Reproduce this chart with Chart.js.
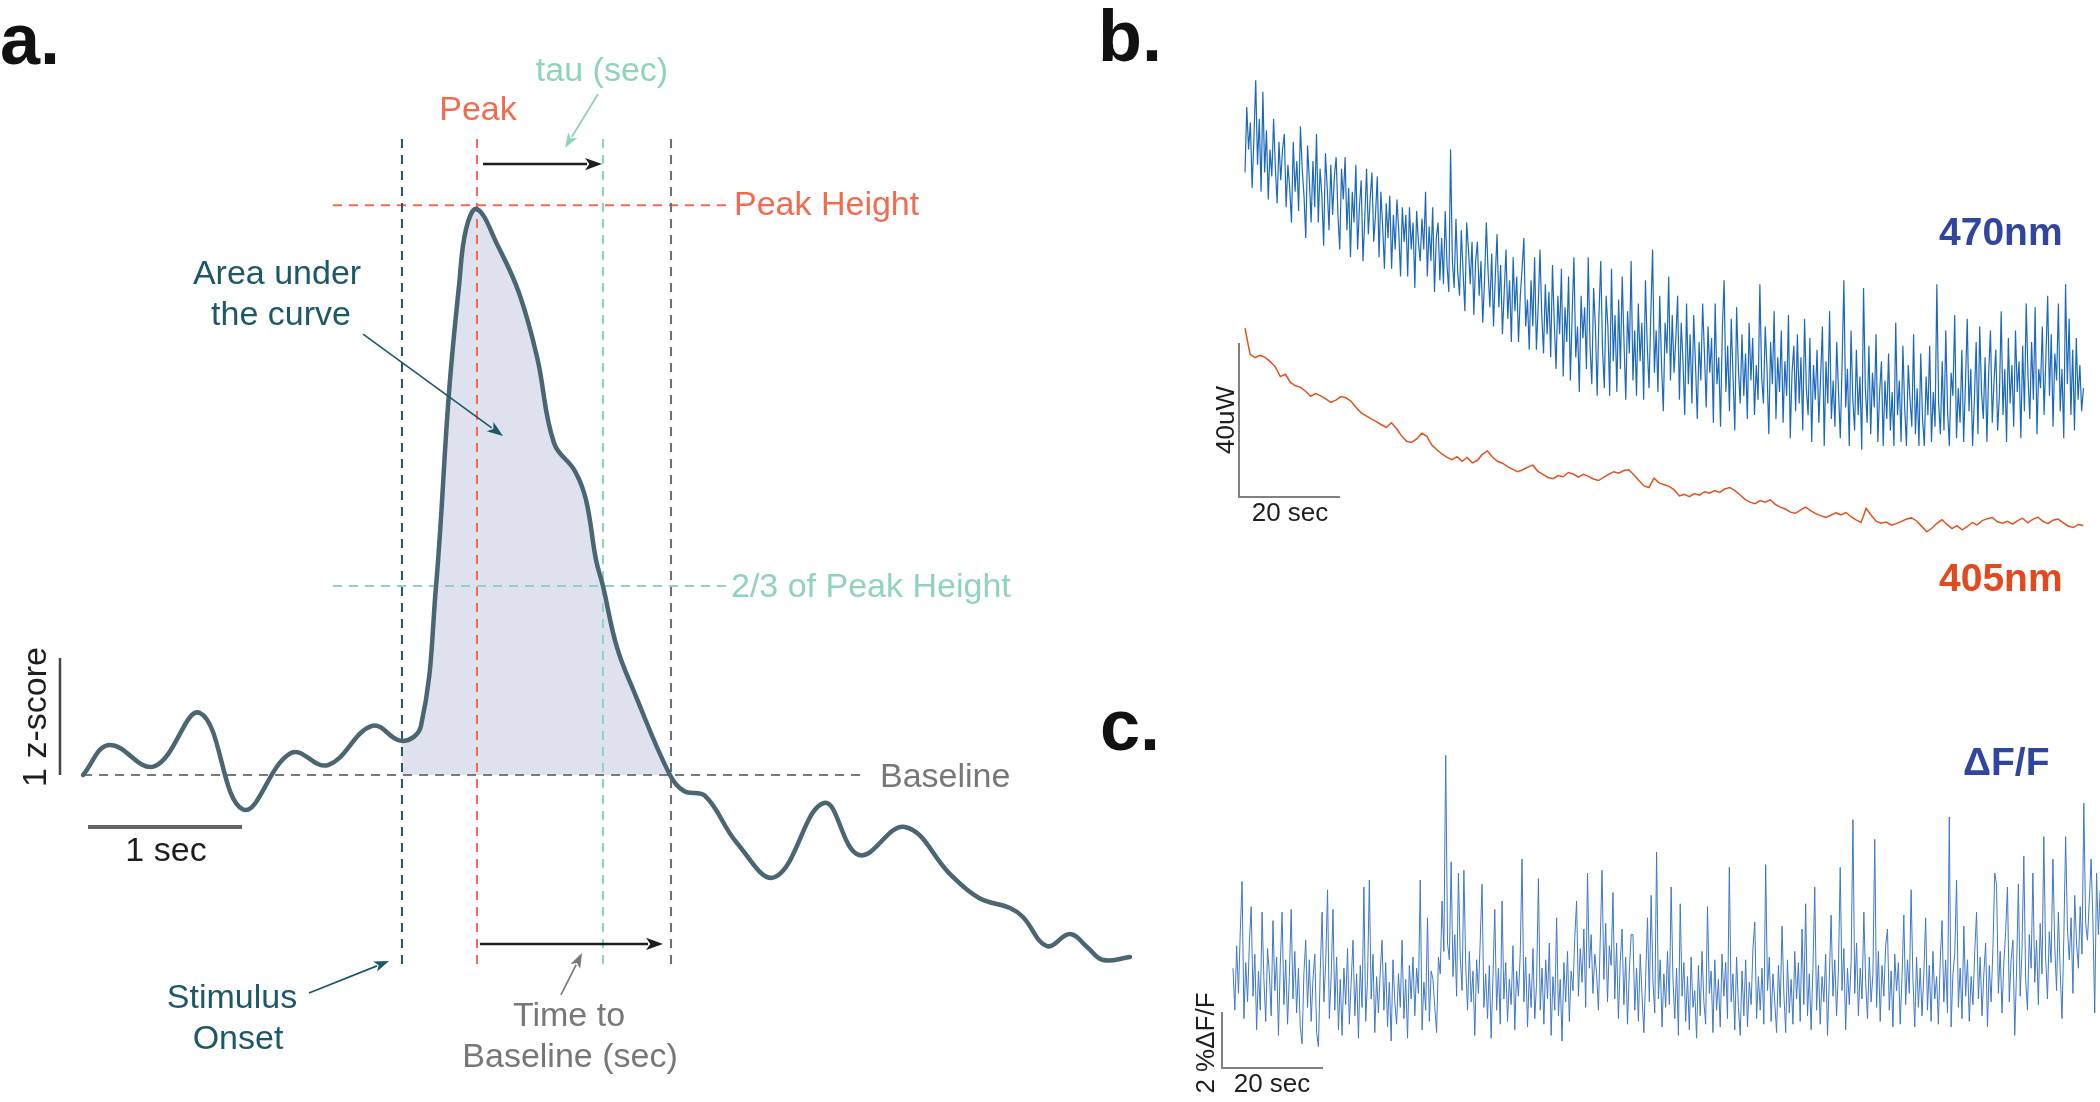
<!DOCTYPE html>
<html lang="en">
<head>
<meta charset="UTF-8">
<title>Photometry response metrics</title>
<script src="https://cdn.jsdelivr.net/npm/chart.js@4"></script>
<style>
  html, body { margin: 0; padding: 0; background: #fff; overflow: hidden; }
  #fig { display: block; background: #fff; }
</style>
</head>
<body>
<canvas id="fig" width="2100" height="1102"></canvas>
<script>
/*** DATA ***/
// a. schematic response: time (s, 0 = stimulus onset) and z-score
const curveTime = [-2.071, -1.903, -1.610, -1.312, -1.032, -0.721, -0.481, -0.195, 0.000, 0.123,
  0.221, 0.305, 0.370, 0.416, 0.487, 0.623, 0.760, 0.877, 0.987, 1.123,
  1.195, 1.260, 1.305, 1.396, 1.513, 1.740, 1.831, 1.968, 2.175, 2.422,
  2.740, 2.968, 3.266, 3.565, 3.747, 3.948, 4.032, 4.188, 4.338, 4.448, 4.552, 4.727];
const curveZ = [0.000, 0.256, 0.073, 0.530, -0.295, 0.188, 0.085, 0.419, 0.291, 0.419,
  1.615, 3.265, 4.179, 4.667, 4.838, 4.521, 4.120, 3.573, 2.838, 2.598,
  2.350, 1.838, 1.615, 1.090, 0.692, 0.000, -0.137, -0.179, -0.581, -0.872,
  -0.239, -0.684, -0.444, -0.855, -1.051, -1.137, -1.214, -1.462, -1.359, -1.470, -1.581, -1.556];
const onsetT = 0, peakT = 0.487, tauT = 1.305, returnT = 1.747;
const peakZ = 4.87, tauZ = 1.615;
const markerTop = 5.436, markerBottom = -1.632;   // z range of vertical dashed markers

// b. raw signals (uW), one sample every dt s
const B_DT_470 = 0.354;
const signal470 = [
  137, 154, 143, 150, 133, 146, 161, 139, 151, 132,
  158, 137, 148, 130, 143, 136, 151, 138, 129, 145,
  135, 143, 147, 128, 139, 133, 124, 145, 132, 140,
  127, 149, 138, 131, 120, 144, 135, 124, 140, 128,
  147, 124, 138, 131, 118, 142, 133, 122, 139, 126,
  136, 141, 126, 117, 138, 130, 141, 122, 133, 115,
  132, 124, 139, 117, 128, 135, 114, 125, 138, 121,
  130, 137, 119, 126, 136, 115, 132, 123, 112, 129,
  120, 131, 112, 126, 117, 130, 122, 110, 128, 119,
  126, 110, 128, 117, 124, 107, 127, 119, 114, 125,
  117, 132, 110, 123, 114, 128, 106, 120, 124, 109,
  120, 108, 127, 113, 106, 143, 114, 107, 125, 111,
  105, 122, 111, 101, 124, 117, 108, 119, 100, 114,
  119, 105, 114, 98, 109, 124, 111, 102, 116, 97,
  110, 121, 102, 113, 95, 106, 117, 99, 109, 93,
  115, 101, 110, 93, 105, 112, 120, 97, 104, 91,
  109, 97, 115, 91, 102, 117, 100, 90, 108, 95,
  106, 89, 113, 98, 86, 105, 95, 112, 84, 102,
  93, 110, 83, 100, 115, 89, 97, 80, 105, 94,
  102, 86, 115, 92, 82, 107, 97, 79, 100, 114,
  91, 81, 105, 97, 79, 112, 88, 100, 80, 104,
  86, 110, 93, 78, 101, 90, 114, 83, 96, 79,
  103, 88, 98, 78, 109, 92, 81, 100, 117, 85,
  96, 80, 105, 87, 75, 98, 90, 110, 83, 100,
  85, 94, 105, 78, 98, 88, 74, 103, 82, 95,
  77, 100, 87, 73, 93, 83, 103, 90, 76, 97,
  85, 94, 72, 103, 82, 89, 71, 96, 109, 80,
  92, 75, 99, 84, 70, 102, 86, 77, 95, 79,
  90, 73, 98, 83, 94, 74, 87, 78, 108, 84,
  77, 97, 86, 69, 93, 82, 101, 73, 89, 80,
  96, 72, 88, 79, 100, 68, 85, 92, 75, 95,
  77, 89, 70, 99, 81, 74, 94, 67, 87, 78,
  91, 72, 84, 97, 66, 88, 77, 101, 73, 83,
  71, 93, 80, 68, 87, 109, 76, 86, 66, 96,
  78, 70, 91, 74, 84, 65, 107, 81, 72, 92,
  69, 85, 76, 95, 67, 80, 88, 66, 83, 73,
  90, 70, 80, 66, 98, 74, 83, 67, 92, 76,
  66, 87, 78, 71, 95, 69, 81, 66, 90, 73,
  66, 84, 74, 92, 67, 80, 71, 108, 77, 69,
  88, 70, 96, 75, 66, 85, 79, 100, 68, 81,
  72, 91, 67, 82, 99, 75, 86, 66, 78, 93,
  69, 97, 80, 73, 89, 67, 85, 96, 72, 83,
  91, 70, 79, 101, 74, 86, 67, 94, 77, 87,
  71, 96, 80, 88, 68, 92, 75, 103, 84, 73,
  93, 78, 102, 69, 86, 81, 97, 74, 89, 105,
  79, 95, 71, 90, 83, 103, 75, 86, 68, 108,
  82, 99, 74, 91, 70, 94, 78, 87, 75, 81
];
const B_DT_405 = 1.0;
const signal405 = [
  96.6, 89.8, 88.9, 89.5, 89.0, 87.9, 86.5, 84.0, 84.6, 82.5,
  81.6, 81.2, 80.2, 78.9, 79.6, 79.0, 78.2, 77.3, 77.9, 78.8,
  78.5, 77.6, 76.0, 74.6, 73.8, 73.0, 72.3, 71.5, 70.8, 72.0,
  70.5, 68.6, 67.2, 66.9, 67.8, 69.3, 68.5, 66.2, 65.0, 63.9,
  63.0, 62.4, 63.2, 62.0, 63.0, 61.6, 62.2, 63.8, 64.7, 63.1,
  62.0, 61.5, 60.6, 59.9, 59.3, 59.8, 60.5, 61.0, 59.4, 58.6,
  57.8, 57.5, 58.3, 58.0, 59.1, 58.7, 57.9, 58.6, 58.1, 57.4,
  57.0, 57.8, 58.6, 59.3, 58.9, 59.6, 59.8, 58.5, 57.0, 55.6,
  55.2, 57.6, 56.4, 55.9, 55.5, 54.6, 53.0, 53.4, 52.8, 53.6,
  53.2, 54.1, 53.7, 54.4, 53.9, 54.8, 55.2, 54.4, 53.3, 52.1,
  51.4, 51.0, 51.8, 51.4, 52.0, 50.8, 50.1, 49.6, 48.8, 48.5,
  49.3, 50.1, 49.2, 48.4, 47.9, 47.4, 48.0, 48.6, 48.1, 48.7,
  47.6, 46.8, 46.1, 49.8, 48.0, 46.4, 45.9, 46.2, 45.4, 45.8,
  46.4, 47.0, 47.3, 46.5, 45.1, 43.7, 44.6, 45.9, 46.8, 45.6,
  44.5, 45.3, 44.2, 45.0, 46.1, 45.5, 46.6, 47.1, 47.4, 46.3,
  45.9, 46.4, 45.7, 46.6, 47.2, 46.0, 46.9, 47.5, 46.4, 45.8,
  46.7, 47.0, 46.1, 45.2, 44.8, 45.6, 45.3
];

// c. dF/F (%), one sample every C_DT s
const C_DT = 0.36;
const dff = [
  0.6, -0.9, 1.4, -0.3, 1.9, 3.7, -1.2, 0.8, -0.6, 1.5,
  2.8, -0.4, 1.1, -1.6, 0.5, -0.9, 2.6, 0.2, -1.3, 1.3,
  0.4, -1.1, 2.3, -0.2, 1.0, -1.8, 0.7, 2.6, -0.7, 0.9,
  -1.4, 0.3, 2.7, -0.5, 1.2, -1.0, 0.6, -1.5, -2.1, 0.4,
  1.6, -0.8, 0.9, -1.3, 0.2, 1.1, -1.7, -2.2, 0.5, 2.6,
  -0.6, 0.8, 3.4, -1.2, 0.3, 2.7, -0.9, 1.0, -1.6, 0.2,
  -1.8, 0.6, -0.7, 1.3, -1.4, 0.1, 1.6, -1.1, 0.4, -1.9,
  0.7, -0.8, 3.5, -1.3, 0.2, 3.75, -0.5, 1.1, -1.7, 0.3,
  -1.0, 0.5, 1.6, -0.9, 0.8, -1.5, 0.1, -2.0, 0.9, -0.6,
  -1.4, 0.4, -0.8, 1.6, -1.2, 0.2, -1.9, 0.7, -0.5, 1.0,
  -1.1, 0.6, -0.3, 3.75, -1.6, 0.1, -0.9, 2.4, -1.3, 0.5,
  0.2, -0.8, -1.7, 1.0, 0.4, 3.0, 1.2, 8.2, 1.5, 0.9,
  4.4, 0.3, 1.8, -0.4, 4.0, 1.0, -0.2, 4.1, 0.7, -0.9,
  1.2, -0.6, 0.5, -1.8, 0.9, -0.3, 1.6, 3.6, -0.8, 0.4,
  -1.2, 0.7, -1.9, 0.3, 2.7, -0.9, 0.6, -1.4, 3.0, -0.5,
  0.8, -1.3, 0.2, -0.7, 1.4, -1.6, 0.5, -0.4, 1.1, 4.5,
  -0.6, 1.0, -1.5, 0.4, -0.8, 1.3, -1.2, 0.1, 3.8, -0.9,
  0.6, -1.4, 0.9, -0.5, 1.5, -1.8, 0.3, -0.9, 2.4, -1.1,
  0.2, -2.0, 0.8, -0.6, 1.2, -1.3, 0.5, -0.2, 1.7, 3.0,
  -0.4, 1.3, 0.1, 2.0, -0.8, 4.0, 0.6, 1.8, -0.3, 1.1,
  0.4, -0.9, 1.6, 4.1, 0.2, 2.2, -0.6, 1.4, 0.7, 3.3,
  -0.5, 1.5, -1.2, 0.8, 2.0, -0.7, 1.0, -1.4, 0.5, 1.8,
  1.8, -0.9, 0.6, -1.3, 1.1, -0.4, -1.7, 0.3, 2.4, -0.6,
  3.2, 0.1, -1.0, 4.75, -0.5, 0.9, -1.5, 0.4, -0.8, 1.2,
  -0.7, 3.5, 0.2, -1.2, 0.6, -1.8, 2.9, -0.4, 0.8, -1.3,
  0.3, -1.6, 1.0, -0.8, -0.2, -1.9, 0.7, -1.1, 1.2, -0.6,
  -1.4, 2.8, -0.3, 0.5, -1.7, 0.9, -0.9, 0.2, -1.5, 1.1,
  -0.4, 0.8, -1.2, 4.2, -0.6, 0.4, -1.6, 1.0, -0.8, -1.8,
  0.5, -1.1, 0.9, -1.5, 0.1, -0.7, 1.3, 2.25, -1.2, 0.3,
  -0.9, 0.6, -1.4, 4.3, -0.2, 1.0, -1.3, 0.4, -0.6, -1.7,
  0.7, -0.8, 2.1, -0.3, -1.7, 0.9, -1.0, 0.2, -1.4, 1.2,
  -0.5, 0.8, -1.3, 2.0, -0.7, 2.9, -1.1, 0.4, -1.6, 0.6,
  3.5, -0.9, 0.7, -1.4, 0.3, -0.6, 1.1, -1.8, 0.2, 2.5,
  -0.4, 0.9, -1.1, 0.5, 4.2, -0.2, 1.3, -1.6, 0.6, -0.7,
  0.8, 5.9, -0.3, 1.5, -1.1, 0.6, -0.5, 2.6, 0.1, -1.2,
  1.0, -0.6, 0.4, 5.2, -0.8, 1.2, -1.3, 0.7, -0.4, 1.4,
  2.0, -0.9, 0.5, -1.5, 1.1, -0.2, 0.8, -1.4, 0.3, 2.5,
  -0.7, 0.9, -0.3, 3.4, 0.2, -1.5, 1.0, -0.8, 0.6, -1.1,
  0.4, 2.4, -0.9, 0.7, -1.3, 1.2, -0.5, 0.3, -1.4, 0.8,
  2.3, -0.6, 0.9, -1.0, 6.0, -1.5, 0.4, 1.1, 3.75, -0.8,
  0.6, -1.2, 2.1, -0.4, 0.9, -1.3, 0.3, -0.7, 1.2, 2.6,
  -0.5, 1.0, -1.1, 0.4, 1.5, -1.5, 0.7, -0.6, 1.3, 4.0,
  3.6, -0.3, 1.2, -1.0, 0.8, 1.9, 3.5, -0.6, 0.9, 1.6,
  -1.8, 0.5, 3.6, -0.4, 1.3, 4.6, 0.2, -0.9, 1.8, 0.6,
  4.0, 0.1, 1.6, -0.7, 2.2, 0.4, 5.3, 1.0, -0.5, 1.9,
  0.8, 4.5, 1.4, -0.2, 2.6, 0.5, -1.2, 1.7, 5.3, 2.0,
  0.9, 2.4, -0.3, 3.2, 1.5, 0.6, 2.8, 1.1, 6.5, 2.2,
  1.6, 3.0, 4.5, 2.3, -1.0, 4.0, 1.8, 3.4, 2.1, 2.9
];

/*** LAYOUT (pixel origin + pixels per unit for each panel scale) ***/
const W = 2100, H = 1102;
function hScale(originPx, pxPerUnit) {
  return { type: 'linear', axis: 'x', position: 'bottom', display: false,
           min: -originPx / pxPerUnit, max: (W - originPx) / pxPerUnit };
}
function vScale(originPx, pxPerUnit) {
  return { type: 'linear', axis: 'y', position: 'left', display: false,
           min: (originPx - H) / pxPerUnit, max: originPx / pxPerUnit };
}

/*** COLOURS ***/
const C_CURVE = '#4b6673', C_FILL = '#dfe1ef', C_TEAL = '#1d5868', C_RED = '#f26b4f',
      C_GREEN = '#8fd3bf', C_GRAY = '#777777', C_INK = '#1e1e1e';
const FONT = "'Liberation Sans', Arial, Helvetica, sans-serif";

/*** HELPERS ***/
const pairs = (ts, vs) => ts.map((t, i) => ({ x: t, y: vs[i] }));
const sampled = (vs, dt) => vs.map((v, i) => ({ x: i * dt, y: v }));
const areaIdx = curveTime.map((t, i) => i).filter(i => curveTime[i] >= onsetT && curveTime[i] <= 1.741);

function dashed(points, color, ax = 'xa', ay = 'ya') {
  return { data: points, xAxisID: ax, yAxisID: ay, borderColor: color, borderWidth: 2,
           borderDash: [9, 7], pointRadius: 0, fill: false, order: 5 };
}
function solid(points, color, width, ax, ay, order = 3) {
  return { data: points, xAxisID: ax, yAxisID: ay, borderColor: color, borderWidth: width,
           pointRadius: 0, fill: false, order: order, borderJoinStyle: 'miter' };
}

const datasets = [
  // a. area under the curve
  { data: areaIdx.map(i => ({ x: curveTime[i], y: curveZ[i] })), xAxisID: 'xa', yAxisID: 'ya',
    borderWidth: 0, pointRadius: 0, tension: 0.4, fill: { value: 0 }, backgroundColor: C_FILL, order: 10 },
  // a. markers
  dashed([{ x: onsetT, y: markerTop }, { x: onsetT, y: markerBottom }], '#2a5668'),
  dashed([{ x: peakT, y: markerTop }, { x: peakT, y: markerBottom }], C_RED),
  dashed([{ x: tauT, y: markerTop }, { x: tauT, y: markerBottom }], C_GREEN),
  dashed([{ x: returnT, y: markerTop }, { x: returnT, y: markerBottom }], '#6d6d6d'),
  dashed([{ x: -0.448, y: peakZ }, { x: 2.104, y: peakZ }], C_RED),
  dashed([{ x: -0.448, y: tauZ }, { x: 2.104, y: tauZ }], C_GREEN),
  dashed([{ x: -2.071, y: 0 }, { x: 2.987, y: 0 }], '#7a7a7a'),
  // a. scale bars: 1 z-score, 1 sec
  solid([{ x: -2.221, y: 0 }, { x: -2.221, y: 1 }], '#444', 2.5, 'xa', 'ya'),
  solid([{ x: -2.039, y: -0.444 }, { x: -1.039, y: -0.444 }], '#666', 4, 'xa', 'ya'),
  // a. response curve
  { data: pairs(curveTime, curveZ), xAxisID: 'xa', yAxisID: 'ya', borderColor: C_CURVE, borderWidth: 4.5,
    tension: 0.4, pointRadius: 0, fill: false, order: 1, borderCapStyle: 'round', borderJoinStyle: 'round' },
  // b. traces + scale bar (40 uW, 20 sec)
  solid(sampled(signal470, B_DT_470), '#1c69bb', 1.2, 'xb', 'yb', 2),
  solid(sampled(signal405, B_DT_405), '#e2501f', 1.5, 'xb', 'yb', 2),
  solid([{ x: -1.19, y: 92.7 }, { x: -1.19, y: 52.7 }, { x: 18.81, y: 52.7 }], '#808080', 2, 'xb', 'yb'),
  // c. dF/F trace + scale bar (2 %, 20 sec)
  solid(sampled(dff, C_DT), '#3f78c8', 1.0, 'xc', 'yc', 2),
  solid([{ x: -2.18, y: -0.964 }, { x: -2.18, y: -2.964 }, { x: 17.82, y: -2.964 }], '#808080', 2, 'xc', 'yc')
];

/*** ANNOTATIONS (panel a arrows in data units) ***/
const arrows = [
  { from: [1.273, 5.821], to: [1.058, 5.359], color: C_GREEN, width: 1.8, head: 15 },
  { from: [0.526, 5.222], to: [1.299, 5.222], color: C_INK, width: 2.5, head: 17 },
  { from: [0.506, -1.444], to: [1.695, -1.444], color: C_INK, width: 2.5, head: 17 },
  { from: [-0.253, 3.769], to: [0.656, 2.897], color: C_TEAL, width: 1.6, head: 16 },
  { from: [-0.604, -1.863], to: [-0.084, -1.590], color: C_TEAL, width: 1.8, head: 15 },
  { from: [1.032, -1.880], to: [1.169, -1.521], color: C_GRAY, width: 1.6, head: 15 }
];

// text labels (pixel anchors, alphabetic baseline)
const texts = [
  { s: 'a.', x: 0, y: 64, size: 72, bold: true, color: '#111', align: 'left' },
  { s: 'tau (sec)', x: 602, y: 81, size: 34, color: C_GREEN },
  { s: 'Peak', x: 478, y: 120, size: 34, color: C_RED },
  { s: 'Peak Height', x: 734, y: 215, size: 34, color: C_RED, align: 'left' },
  { s: 'Area under', x: 277, y: 284, size: 34, color: C_TEAL },
  { s: 'the curve', x: 281, y: 325, size: 34, color: C_TEAL },
  { s: '2/3 of Peak Height', x: 731, y: 597, size: 34, color: C_GREEN, align: 'left' },
  { s: 'Baseline', x: 880, y: 787, size: 34, color: C_GRAY, align: 'left' },
  { s: '1 z-score', x: 46, y: 717, size: 34, color: C_INK, rot: -90 },
  { s: '1 sec', x: 166, y: 861, size: 34, color: C_INK },
  { s: 'Stimulus', x: 232, y: 1008, size: 34, color: C_TEAL },
  { s: 'Onset', x: 238, y: 1049, size: 34, color: C_TEAL },
  { s: 'Time to', x: 569, y: 1026, size: 34, color: C_GRAY },
  { s: 'Baseline (sec)', x: 570, y: 1067, size: 34, color: C_GRAY },
  { s: 'b.', x: 1098, y: 61, size: 72, bold: true, color: '#111', align: 'left' },
  { s: '470nm', x: 1939, y: 245, size: 39, bold: true, color: '#2f45a0', align: 'left' },
  { s: '405nm', x: 1939, y: 591, size: 39, bold: true, color: '#e2491d', align: 'left' },
  { s: '40uW', x: 1234, y: 420, size: 26, color: C_INK, rot: -90 },
  { s: '20 sec', x: 1290, y: 521, size: 26, color: C_INK },
  { s: 'c.', x: 1100, y: 750, size: 72, bold: true, color: '#111', align: 'left' },
  { s: 'ΔF/F', x: 1963, y: 775, size: 39, bold: true, color: '#2f45a0', align: 'left' },
  { s: '2 %ΔF/F', x: 1214, y: 1043, size: 26, color: C_INK, rot: -90 },
  { s: '20 sec', x: 1272, y: 1092, size: 26, color: C_INK }
];

function drawArrow(ctx, x1, y1, x2, y2, color, width, head) {
  const ang = Math.atan2(y2 - y1, x2 - x1);
  const bx = x2 - head * Math.cos(ang), by = y2 - head * Math.sin(ang);
  const hw = head * 0.36;
  ctx.save();
  ctx.strokeStyle = color; ctx.fillStyle = color; ctx.lineWidth = width;
  ctx.beginPath(); ctx.moveTo(x1, y1); ctx.lineTo(bx + 2 * Math.cos(ang), by + 2 * Math.sin(ang)); ctx.stroke();
  ctx.beginPath();
  ctx.moveTo(x2, y2);
  ctx.lineTo(bx - hw * Math.sin(ang), by + hw * Math.cos(ang));
  ctx.lineTo(x2 - head * 0.75 * Math.cos(ang), y2 - head * 0.75 * Math.sin(ang));
  ctx.lineTo(bx + hw * Math.sin(ang), by - hw * Math.cos(ang));
  ctx.closePath(); ctx.fill();
  ctx.restore();
}

const annotate = {
  id: 'annotate',
  beforeDraw(chart) {
    const ctx = chart.ctx;
    ctx.save(); ctx.fillStyle = '#fff'; ctx.fillRect(0, 0, chart.width, chart.height); ctx.restore();
  },
  afterDraw(chart) {
    const ctx = chart.ctx, xa = chart.scales.xa, ya = chart.scales.ya;
    arrows.forEach(a => drawArrow(ctx,
      xa.getPixelForValue(a.from[0]), ya.getPixelForValue(a.from[1]),
      xa.getPixelForValue(a.to[0]), ya.getPixelForValue(a.to[1]), a.color, a.width, a.head));
    texts.forEach(t => {
      ctx.save();
      ctx.font = (t.bold ? 'bold ' : '') + t.size + 'px ' + FONT;
      ctx.fillStyle = t.color;
      ctx.textAlign = t.align || 'center';
      ctx.textBaseline = 'alphabetic';
      ctx.translate(t.x, t.y);
      if (t.rot) ctx.rotate(t.rot * Math.PI / 180);
      ctx.fillText(t.s, 0, 0);
      ctx.restore();
    });
  }
};

new Chart(document.getElementById('fig'), {
  type: 'line',
  data: { datasets: datasets },
  options: {
    responsive: false,
    devicePixelRatio: 1,
    animation: false,
    layout: { padding: 0 },
    plugins: { legend: { display: false }, tooltip: { enabled: false } },
    events: [],
    scales: {
      xa: hScale(402, 154), ya: vScale(775, 117),
      xb: hScale(1245, 5.05), yb: vScale(700, 3.85),
      xc: hScale(1233, 5.05), yc: vScale(985, 28)
    }
  },
  plugins: [annotate]
});
</script>
</body>
</html>
